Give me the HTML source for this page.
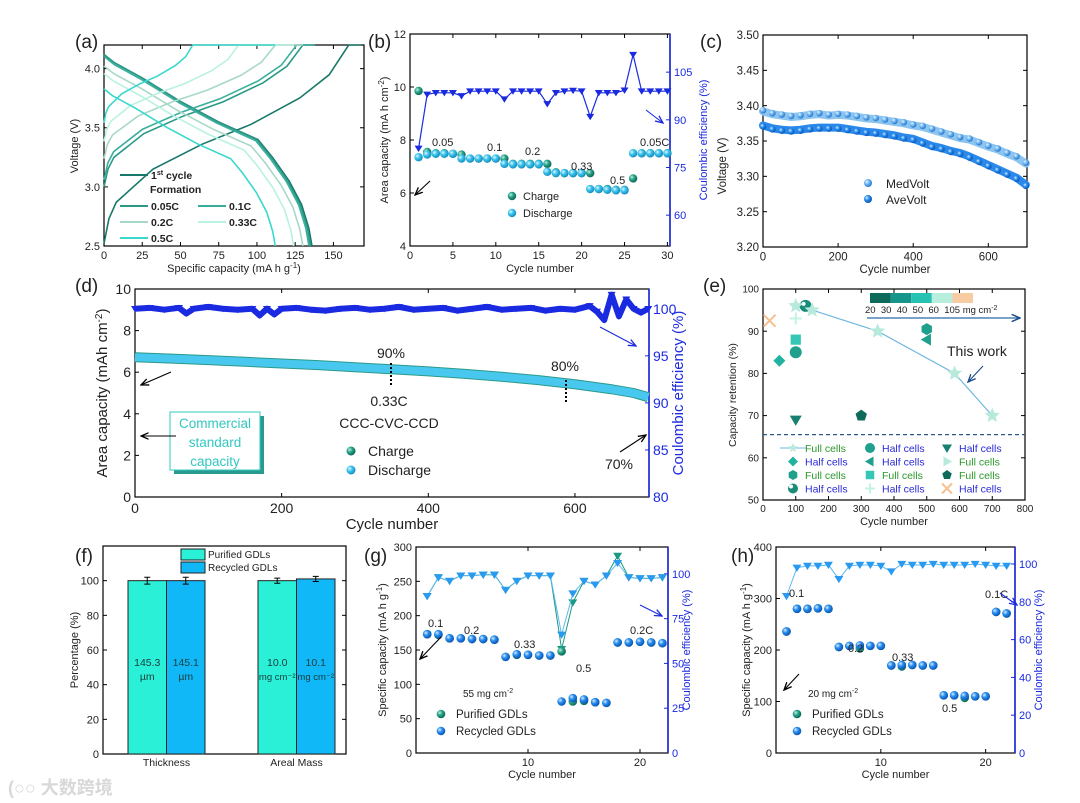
<!DOCTYPE html>
<html><head><meta charset="utf-8">
<style>
html,body{margin:0;padding:0;background:#fff;}
svg{display:block;font-family:"Liberation Sans",Arial,sans-serif;}
</style></head>
<body>
<svg id="fig" width="1080" height="803" viewBox="0 0 1080 803" xmlns="http://www.w3.org/2000/svg">
<defs>
<radialGradient id="gTeal" cx="35%" cy="35%" r="65%"><stop offset="0" stop-color="#bff0e0"/><stop offset="0.45" stop-color="#2aa58a"/><stop offset="1" stop-color="#0d6a58"/></radialGradient>
<radialGradient id="gCyan" cx="35%" cy="35%" r="65%"><stop offset="0" stop-color="#e0f8ff"/><stop offset="0.45" stop-color="#3cc4ee"/><stop offset="1" stop-color="#1690c0"/></radialGradient>
<radialGradient id="gBlue" cx="35%" cy="35%" r="65%"><stop offset="0" stop-color="#d8ecff"/><stop offset="0.45" stop-color="#2a8ef0"/><stop offset="1" stop-color="#0a58b8"/></radialGradient>
<radialGradient id="gLBlue" cx="35%" cy="35%" r="65%"><stop offset="0" stop-color="#e8f4ff"/><stop offset="0.5" stop-color="#6cb4f0"/><stop offset="1" stop-color="#2a78d0"/></radialGradient>
<marker id="arK" markerWidth="8" markerHeight="8" refX="7" refY="4" orient="auto"><path d="M0,1 L7,4 L0,7" fill="none" stroke="#000" stroke-width="1.2"/></marker>
<marker id="arB" markerWidth="8" markerHeight="8" refX="7" refY="4" orient="auto"><path d="M0,1 L7,4 L0,7" fill="none" stroke="#1a2ae0" stroke-width="1.2"/></marker>
<marker id="arD" markerWidth="8" markerHeight="8" refX="7" refY="4" orient="auto"><path d="M0,1 L7,4 L0,7" fill="none" stroke="#1a4a8a" stroke-width="1.2"/></marker>
</defs>
</svg>
<script>
// ---------- DATA ----------
// (a)
const aDisFrac=[0,0.05,0.185,0.37,0.55,0.74,0.81,0.89,0.95,0.985,1];
const aDisV=[4.12,4.05,3.92,3.72,3.55,3.40,3.25,3.05,2.85,2.65,2.5];
const aChgFrac=[0,0.02,0.05,0.2,0.4,0.6,0.8,0.92,1];
const aChgV=[3.0,3.15,3.25,3.45,3.6,3.72,3.88,4.02,4.2];
const aNames=["1st","0.05C","0.1C","0.2C","0.33C","0.5C"];
const aDisCap=[136,135,134,130,124,112];
const aDisK=[1.0,1.0,0.99,0.94,0.9,0.82];
const aCvStart=[160,130,126,112,88,58];
const aChgEnd=[168,138,136,130,124,112];
const aChgK=[1.4,1.0,0.95,0.8,0.68,0.55];
const aColors=["#17796a","#2a9a88","#3aae9c","#a8d8c8","#b8f2e2","#3ad8cc"];
// (b)
const bCycles=[1,2,3,4,5,6,7,8,9,10,11,12,13,14,15,16,17,18,19,20,21,22,23,24,25,26,27,28,29,30];
const bCharge=[9.85,7.55,7.5,7.5,7.48,7.45,7.3,7.3,7.3,7.3,7.3,7.1,7.1,7.1,7.1,7.1,6.78,6.75,6.75,6.75,6.75,6.15,6.15,6.12,6.12,6.55,7.5,7.5,7.5,7.5];
const bDischarge=[7.35,7.45,7.48,7.48,7.48,7.3,7.3,7.3,7.3,7.3,7.1,7.08,7.08,7.08,7.08,6.8,6.75,6.75,6.75,6.75,6.15,6.15,6.12,6.1,6.1,7.5,7.5,7.5,7.5,7.5];
const bCE=[81,98,98.5,98.5,98.5,97.5,99,99,99,99,96.5,99,99,99,99,95,98.5,99,99.2,99,91,98.5,98.5,98.5,99.3,110.5,99,99,99,99];
// (c)
const cCycles=[0,25,50,75,100,125,150,175,200,225,250,275,300,325,350,375,400,425,450,475,500,525,550,575,600,625,650,675,700];
const cMed=[3.392,3.388,3.386,3.384,3.385,3.387,3.388,3.386,3.387,3.386,3.384,3.382,3.381,3.379,3.377,3.375,3.372,3.37,3.366,3.362,3.358,3.354,3.352,3.347,3.342,3.338,3.332,3.327,3.318];
const cAve=[3.372,3.368,3.366,3.365,3.366,3.368,3.369,3.369,3.369,3.367,3.365,3.363,3.362,3.36,3.358,3.355,3.353,3.348,3.343,3.34,3.336,3.333,3.328,3.322,3.316,3.31,3.304,3.298,3.288];
// (d)
const dCycles=[0,50,100,150,200,250,300,350,400,450,500,550,600,650,680,700];
const dCap=[6.72,6.65,6.58,6.5,6.42,6.34,6.24,6.14,6.04,5.92,5.78,5.62,5.42,5.18,5.0,4.8];
const dCECycles=[0,20,40,60,70,80,100,120,140,160,170,180,190,200,220,240,260,280,300,320,340,360,380,400,420,440,460,480,500,520,540,560,580,600,620,630,640,650,660,670,680,690,700];
const dCE=[100,100.1,99.9,100.1,99.5,100,100.2,100,99.9,100,99.3,100,99.4,100,100.1,99.9,99.8,100,100.1,99.9,100,100.2,99.9,100,100.1,99.8,100,100.2,99.9,100,100.1,99.8,100,99.9,100.3,99.7,98.8,101.5,99.2,101,100,99.6,100];
// (e)
const eStarX=[100,150,350,585,700];
const eStarY=[96,95,90,80,70];
const eOtherX=[50,100,500,100,130,500,100,300,100,20];
const eOtherY=[83,85,90.5,88,96,88,69,70,93,92.5];
const eOtherShape=["diamond","circle","hexagon","square","ring","tleft","tdown","pentagon","plus","cross"];
const eOtherColor=["#22b3a0","#1ea08c","#1ea08c","#36c6b6","#1a8c7a","#1ea08c","#178070","#0e6a5a","#c4f2e4","#f6c090"];
// (f)
const fGroups=["Thickness","Areal Mass"];
const fPurified=[100,100];
const fRecycled=[100,101];
const fErrP=[2,1.5];
const fErrR=[2,1.5];
const fInside=[["145.3","µm","145.1","µm"],["10.0","mg cm⁻²","10.1","mg cm⁻²"]];
// (g)
const gCycles=[1,2,3,4,5,6,7,8,9,10,11,12,13,14,15,16,17,18,19,20,21,22];
const gRecCap=[173,173,167,167,166,166,165,140,144,143,142,142,75,80,78,74,73,161,161,162,161,160];
const gPurCap=[173,172,167,167,166,166,165,140,143,143,142,142,148,75,76,74,73,161,161,162,161,160];
const gRecCE=[87.5,98,96,99,99,99.5,99.5,91,96,99,99,99,66,89,96,94,99,106,98,97.5,97.5,98];
const gPurCE=[87.5,98,96,99,99,99.5,99.5,91,96,99,99,99,58,84,96,94,99,110,98,97.5,97.5,98];
// (h)
const hCycles=[1,2,3,4,5,6,7,8,9,10,11,12,13,14,15,16,17,18,19,20,21,22];
const hRecCap=[236,280,280,281,280,206,208,209,208,208,170,171,171,170,170,112,112,111,110,110,274,271];
const hPurCap=[236,280,280,281,280,206,208,203,208,208,170,168,171,170,170,112,112,107,110,110,274,271];
const hRecCE=[83,98,99,99,99.5,92,99,99.5,99.5,99,96,100,99.5,99.5,100,99.5,99.5,99.5,100,99.5,99,99];

// ---------- HELPERS ----------
const NS='http://www.w3.org/2000/svg';
const svg=document.getElementById('fig');
function mk(tag,attrs,parent){const e=document.createElementNS(NS,tag);for(const k in attrs)e.setAttribute(k,attrs[k]);(parent||svg).appendChild(e);return e;}
function lin(d0,d1,r0,r1){return v=>r0+(v-d0)/(d1-d0)*(r1-r0);}
function T(x,y,s,o,nm){o=o||{};const e=mk('text',{x:x,y:y,'font-size':o.fs||12,fill:o.fill||'#222','text-anchor':o.anchor||'start','font-weight':o.fw||'normal'});
 if(o.rot){e.setAttribute('transform','rotate(-90 '+x+' '+y+')');}
 e.innerHTML=s;
 
 
 return e;}
function grp(nm){const g=mk('g',{});
 
 
 return g;}
function axes(p){
 const g=grp(p.name+'-axes');
 const sx=lin(p.xd[0],p.xd[1],p.L,p.R), sy=lin(p.yd[0],p.yd[1],p.B,p.T);
 const sy2=p.yd2?lin(p.yd2[0],p.yd2[1],p.B,p.T):null;
 const fs=p.fs||11;
 (p.xt||[]).forEach(v=>{const x=sx(v);mk('line',{x1:x,x2:x,y1:p.B,y2:p.B-4,stroke:'#000'},g);mk('line',{x1:x,x2:x,y1:p.T,y2:p.T+4,stroke:'#000'},g);
  T(x,p.B+fs+2,(p.xfmt?p.xfmt(v):v),{fs:fs,anchor:'middle'},'x-tick-label');});
 (p.yt||[]).forEach(v=>{const y=sy(v);mk('line',{x1:p.L,x2:p.L+4,y1:y,y2:y,stroke:'#000'},g);if(!p.yd2)mk('line',{x1:p.R,x2:p.R-4,y1:y,y2:y,stroke:'#000'},g);
  T(p.L-4,y+fs*0.36,(p.yfmt?p.yfmt(v):v),{fs:fs,anchor:'end'},'y-tick-label');});
 (p.y2t||[]).forEach(v=>{const y=sy2(v);mk('line',{x1:p.R,x2:p.R-4,y1:y,y2:y,stroke:'#1a2ae0'},g);
  T(p.R+4,y+fs*0.36,v,{fs:fs,fill:'#1a2ae0'},'y2-tick-label');});
 mk('rect',{x:p.L,y:p.T,width:p.R-p.L,height:p.B-p.T,fill:'none',stroke:'#000','stroke-width':1.2},g);
 if(p.yd2)mk('line',{x1:p.R,x2:p.R,y1:p.T,y2:p.B,stroke:'#1a2ae0','stroke-width':1.6},g);
 return {sx,sy,sy2,g};}
function tri(cx,cy,r,fill,par,nm){const e=mk('path',{d:'M'+(cx-r)+','+(cy-r*0.7)+' L'+(cx+r)+','+(cy-r*0.7)+' L'+cx+','+(cy+r*0.9)+' Z',fill:fill},par);
 
 
 return e;}
function ball(cx,cy,r,grad,par,nm){const e=mk('circle',{cx:cx,cy:cy,r:r,fill:'url(#'+grad+')'},par);
 
 
 return e;}
function arrow(x1,y1,x2,y2,m,col){const e=mk('line',{x1,y1,x2,y2,stroke:col,'stroke-width':1.1,'marker-end':'url(#'+m+')'});
 
 }

// ---------- PANEL LETTERS ----------
[["(a)",75,48],["(b)",368,48],["(c)",700,48],["(d)",75,292],["(e)",703,292],["(f)",75,562],["(g)",364,562],["(h)",731,562]].forEach(l=>T(l[1],l[2],l[0],{fs:19},'panel-letter'));

// ---------- (a) ----------
(function(){
 const A=axes({name:'a',L:104,R:364,T:45,B:246,xd:[0,170],yd:[2.5,4.2],xt:[0,25,50,75,100,125,150],yt:[2.5,3.0,3.5,4.0],yfmt:v=>v.toFixed(1),fs:11});
 const g=grp('a-curves');
 aNames.forEach((n,i)=>{
  let pts=aDisFrac.map((f,j)=>A.sx(f*aDisCap[i])+','+A.sy(2.5+(aDisV[j]-2.5)*aDisK[i]));
  const d=mk('polyline',{points:pts.join(' '),fill:'none',stroke:aColors[i],'stroke-width':1.6},g);
  
  
  let cp=aChgFrac.map((f,j)=>A.sx(f*aCvStart[i])+','+A.sy(4.2-(4.2-aChgV[j])*aChgK[i]));
  cp.push(A.sx(aChgEnd[i])+','+A.sy(4.2));
  const c=mk('polyline',{points:cp.join(' '),fill:'none',stroke:aColors[i],'stroke-width':1.6},g);
  
  
 });
 T(78,146,'Voltage (V)',{fs:11,anchor:'middle',rot:1},'y-axis-title');
 T(234,272,'Specific capacity (mA h g<tspan font-size="8" dy="-4">-1</tspan><tspan dy="4">)</tspan>',{fs:11,anchor:'middle'},'x-axis-title');
 const lg=grp('a-legend');
 [[0,120,175],[1,120,206],[2,198,206],[3,120,222],[4,198,222],[5,120,238]].forEach(r=>{
  const l=mk('line',{x1:r[1],x2:r[1]+28,y1:r[2],y2:r[2],stroke:aColors[r[0]],'stroke-width':2},lg);
  
  });
 T(151,179,'1<tspan font-size="7" dy="-4">st</tspan><tspan dy="4"> cycle</tspan>',{fs:10.5,fw:'bold'},'legend-entry');
 T(150,193,'Formation',{fs:10.5,fw:'bold'},'legend-entry');
 T(151,210,'0.05C',{fs:10.5,fw:'bold'},'legend-entry');
 T(229,210,'0.1C',{fs:10.5,fw:'bold'},'legend-entry');
 T(151,226,'0.2C',{fs:10.5,fw:'bold'},'legend-entry');
 T(229,226,'0.33C',{fs:10.5,fw:'bold'},'legend-entry');
 T(151,242,'0.5C',{fs:10.5,fw:'bold'},'legend-entry');
})();

// ---------- (b) ----------
(function(){
 const A=axes({name:'b',L:410,R:670,T:34,B:246,xd:[0,30.3],yd:[4,12],yd2:[50.3,117],xt:[0,5,10,15,20,25,30],yt:[4,6,8,10,12],y2t:[60,75,90,105],fs:11});
 const g=grp('b-series');
 const ce=mk('polyline',{points:bCycles.map((c,i)=>A.sx(c)+','+A.sy2(bCE[i])).join(' '),fill:'none',stroke:'#1a2ae0','stroke-width':1.2},g);
 
 
 bCycles.forEach((c,i)=>tri(A.sx(c),A.sy2(bCE[i]),4,'#1a2ae0',g,'ce-point'));
 bCycles.forEach((c,i)=>ball(A.sx(c),A.sy(bCharge[i]),4.2,'gTeal',g,'charge-point'));
 bCycles.forEach((c,i)=>ball(A.sx(c),A.sy(bDischarge[i]),4.2,'gCyan',g,'discharge-point'));
 T(388,140,'Area capacity (mA h cm<tspan font-size="8" dy="-4">-2</tspan><tspan dy="4">)</tspan>',{fs:11,anchor:'middle',rot:1},'y-axis-title');
 T(707,140,'Coulombic efficiency (%)',{fs:11,anchor:'middle',rot:1,fill:'#1a2ae0'},'y2-axis-title');
 T(540,272,'Cycle number',{fs:11,anchor:'middle'},'x-axis-title');
 [["0.05",432,146],["0.1",487,151],["0.2",525,155],["0.33",571,170],["0.5",610,184],["0.05C",640,146]].forEach(l=>T(l[1],l[2],l[0],{fs:11},'rate-label'));
 arrow(430,181,415,195,'arK','#000');
 arrow(646,110,663,123,'arB','#1a2ae0');
 ball(512,196,4.2,'gTeal',svg,'legend-marker-charge');
 T(523,200,'Charge',{fs:11},'legend-entry');
 ball(512,213,4.2,'gCyan',svg,'legend-marker-discharge');
 T(523,217,'Discharge',{fs:11},'legend-entry');
})();

// ---------- (c) ----------
(function(){
 const A=axes({name:'c',L:763,R:1027,T:35,B:247,xd:[0,703],yd:[3.2,3.5],xt:[0,200,400,600],yt:[3.2,3.25,3.3,3.35,3.4,3.45,3.5],yfmt:v=>v.toFixed(2),fs:11.5});
 const g=grp('c-series');
 [[cMed,'#8cc4f0','medvolt'],[cAve,'#2a88ea','avevolt']].forEach(s=>{
  const pl=mk('polyline',{points:cCycles.map((c,i)=>A.sx(c)+','+A.sy(s[0][i])).join(' '),fill:'none',stroke:s[1],'stroke-width':8,'stroke-linejoin':'round','stroke-linecap':'round'},g);
  
  
 });
 cCycles.forEach((c,i)=>ball(A.sx(c),A.sy(cMed[i])-1,3.3,'gLBlue',g,'medvolt-point'));
 cCycles.forEach((c,i)=>ball(A.sx(c),A.sy(cAve[i])+1,3.3,'gBlue',g,'avevolt-point'));
 T(726,166,'Voltage (V)',{fs:11.5,anchor:'middle',rot:1},'y-axis-title');
 T(895,273,'Cycle number',{fs:11.5,anchor:'middle'},'x-axis-title');
 ball(868,183,4,'gLBlue',svg,'legend-marker-medvolt');
 T(886,188,'MedVolt',{fs:12},'legend-entry');
 ball(868,199,4,'gBlue',svg,'legend-marker-avevolt');
 T(886,204,'AveVolt',{fs:12},'legend-entry');
})();

// ---------- (d) ----------
(function(){
 const A=axes({name:'d',L:135,R:649,T:289,B:497,xd:[0,701],yd:[0,10],yd2:[80,102.1],xt:[0,200,400,600],yt:[0,2,4,6,8,10],y2t:[80,85,90,95,100],fs:14});
 const g=grp('d-series');
 const ce=mk('polyline',{points:dCECycles.map((c,i)=>A.sx(c)+','+A.sy2(dCE[i])).join(' '),fill:'none',stroke:'#1a2ae0','stroke-width':6,'stroke-linejoin':'round'},g);
 
 
 dCECycles.forEach((c,i)=>tri(A.sx(c),A.sy2(dCE[i]),4,'#1a2ae0',g,'ce-point'));
 const ch=mk('polyline',{points:dCycles.map((c,i)=>A.sx(c)+','+A.sy(dCap[i])).join(' '),fill:'none',stroke:'#2a9a88','stroke-width':10,'stroke-linejoin':'round'},g);
 
 
 const di=mk('polyline',{points:dCycles.map((c,i)=>A.sx(c)+','+A.sy(dCap[i])).join(' '),fill:'none',stroke:'#48c8ee','stroke-width':8,'stroke-linejoin':'round'},g);
 
 
 T(107,393,'Area capacity (mAh cm<tspan font-size="10" dy="-5">-2</tspan><tspan dy="5">)</tspan>',{fs:15,anchor:'middle',rot:1},'y-axis-title');
 T(683,393,'Coulombic efficiency (%)',{fs:15,anchor:'middle',rot:1,fill:'#1a2ae0'},'y2-axis-title');
 T(392,529,'Cycle number',{fs:15,anchor:'middle'},'x-axis-title');
 T(391,358,'90%',{fs:14,anchor:'middle'},'retention-90');
 const l1=mk('line',{x1:391,x2:391,y1:363,y2:385,stroke:'#000','stroke-width':2,'stroke-dasharray':'2,2'});
 
 
 T(565,371,'80%',{fs:14,anchor:'middle'},'retention-80');
 const l2=mk('line',{x1:566,x2:566,y1:380,y2:402,stroke:'#000','stroke-width':2,'stroke-dasharray':'2,2'});
 
 
 T(619,469,'70%',{fs:14,anchor:'middle'},'retention-70');
 arrow(620,452,646,435,'arK','#000');
 T(389,406,'0.33C',{fs:14,anchor:'middle'},'rate-label');
 T(389,428,'CCC-CVC-CCD',{fs:14,anchor:'middle'},'protocol-label');
 arrow(171,372,141,385,'arK','#000');
 arrow(600,327,636,346,'arB','#1a2ae0');
 const bx=grp('commercial-standard-box');
 mk('rect',{x:174,y:416,width:90,height:58,fill:'#2a9a90'},bx);
 mk('rect',{x:170,y:412,width:90,height:58,fill:'#fff',stroke:'#30c8bc','stroke-width':1},bx);
 T(215,428,'Commercial',{fs:13.5,anchor:'middle',fill:'#30c8c0'},'box-text');
 T(215,447,'standard',{fs:13.5,anchor:'middle',fill:'#30c8c0'},'box-text');
 T(215,466,'capacity',{fs:13.5,anchor:'middle',fill:'#30c8c0'},'box-text');
 arrow(176,436,141,436,'arK','#000');
 ball(351,451,4.5,'gTeal',svg,'legend-marker-charge');
 T(368,456,'Charge',{fs:14},'legend-entry');
 ball(351,470,4.5,'gCyan',svg,'legend-marker-discharge');
 T(368,475,'Discharge',{fs:14},'legend-entry');
})();

// ---------- (e) ----------
function star(cx,cy,r,fill,par){let p=[];for(let k=0;k<10;k++){const a=-Math.PI/2+k*Math.PI/5;const rr=k%2?r*0.45:r;p.push((cx+rr*Math.cos(a))+','+(cy+rr*Math.sin(a)));}return mk('polygon',{points:p.join(' '),fill:fill},par);}
function shape(kind,cx,cy,r,fill,par){
 let e;
 if(kind==='circle')e=mk('circle',{cx,cy,r,fill},par);
 else if(kind==='ring'){e=mk('g',{},par);mk('circle',{cx,cy,r,fill},e);mk('circle',{cx:cx-2,cy:cy-2,r:2,fill:'#fff'},e);}
 else if(kind==='square')e=mk('rect',{x:cx-r*0.85,y:cy-r*0.85,width:r*1.7,height:r*1.7,fill},par);
 else if(kind==='diamond')e=mk('polygon',{points:[cx,cy-r,cx+r,cy,cx,cy+r,cx-r,cy].join(','),fill},par);
 else if(kind==='tdown')e=mk('polygon',{points:[cx-r,cy-r*0.7,cx+r,cy-r*0.7,cx,cy+r].join(','),fill},par);
 else if(kind==='tleft')e=mk('polygon',{points:[cx+r*0.7,cy-r,cx+r*0.7,cy+r,cx-r,cy].join(','),fill},par);
 else if(kind==='tright')e=mk('polygon',{points:[cx-r*0.7,cy-r,cx-r*0.7,cy+r,cx+r,cy].join(','),fill},par);
 else if(kind==='hexagon'||kind==='pentagon'){const n=kind==='hexagon'?6:5;let p=[];for(let k=0;k<n;k++){const a=-Math.PI/2+k*2*Math.PI/n;p.push((cx+r*Math.cos(a))+','+(cy+r*Math.sin(a)));}e=mk('polygon',{points:p.join(' '),fill},par);}
 else if(kind==='plus'){e=mk('path',{d:'M'+(cx-r)+','+cy+'H'+(cx+r)+'M'+cx+','+(cy-r)+'V'+(cy+r),stroke:fill,'stroke-width':2},par);}
 else if(kind==='cross'){e=mk('path',{d:'M'+(cx-r)+','+(cy-r)+'L'+(cx+r)+','+(cy+r)+'M'+(cx+r)+','+(cy-r)+'L'+(cx-r)+','+(cy+r),stroke:fill,'stroke-width':2},par);}
 else if(kind==='star')e=star(cx,cy,r,fill,par);
 return e;}
(function(){
 const A=axes({name:'e',L:763,R:1025,T:289,B:500,xd:[0,800],yd:[50,100],xt:[0,100,200,300,400,500,600,700,800],yt:[50,60,70,80,90,100],fs:10});
 const g=grp('e-series');
 const dl=mk('line',{x1:763,x2:1025,y1:A.sy(65.5),y2:A.sy(65.5),stroke:'#2a5a8a','stroke-width':1.2,'stroke-dasharray':'4,3'},g);
 
 
 const pl=mk('polyline',{points:eStarX.map((x,i)=>A.sx(x)+','+A.sy(eStarY[i])).join(' '),fill:'none',stroke:'#70b8e0','stroke-width':1.2},g);
 
 
 eOtherX.forEach((x,i)=>{const e=shape(eOtherShape[i],A.sx(x),A.sy(eOtherY[i]),6,eOtherColor[i],g);
  
  });
 eStarX.forEach((x,i)=>{const e=star(A.sx(x),A.sy(eStarY[i]),8,'#b8eadc',g);
  
  });
 T(736,395,'Capacity retention (%)',{fs:10.5,anchor:'middle',rot:1},'y-axis-title');
 T(894,525,'Cycle number',{fs:11,anchor:'middle'},'x-axis-title');
 T(947,356,'This work',{fs:14},'this-work-label');
 arrow(983,366,968,382,'arD','#1a4a8a');
 const cb=grp('colorbar');
 ["#0e6a5a","#16958a","#26c2b2","#b8eedd","#f8cca2"].forEach((c,i)=>{const r=mk('rect',{x:870+i*20.6,y:293,width:20.6,height:10,fill:c},cb);
  
  });
 T(865,313,'20 &#160;30 &#160;40 &#160;50 &#160;60 &#160;105 mg cm<tspan font-size="7" dy="-3">-2</tspan>',{fs:9.5},'colorbar-labels');
 const al=mk('line',{x1:867,x2:1020,y1:318,y2:318,stroke:'#2a6aa8','stroke-width':1.2,'marker-end':'url(#arD)'});
 
 
 const lg=grp('e-legend');
 const rows=[
  [["star","#b8eadc","Full cells","#2a9a2a"],["circle","#1ea08c","Half cells","#2a2ad8"],["tdown","#178070","Half cells","#2a2ad8"]],
  [["diamond","#22b3a0","Half cells","#2a2ad8"],["tleft","#1ea08c","Half cells","#2a2ad8"],["tright","#b8eadc","Full cells","#2a9a2a"]],
  [["hexagon","#1ea08c","Full cells","#2a9a2a"],["square","#36c6b6","Full cells","#2a9a2a"],["pentagon","#0e6a5a","Full cells","#2a9a2a"]],
  [["ring","#1a8c7a","Half cells","#2a2ad8"],["plus","#c4f2e4","Half cells","#2a2ad8"],["cross","#f6c090","Half cells","#2a2ad8"]]];
 rows.forEach((row,ri)=>row.forEach((it,ci)=>{const cx=793+ci*77,cy=448+ri*13.5;
  if(ri===0&&ci===0){const l=mk('line',{x1:780,x2:806,y1:cy,y2:cy,stroke:'#70b8e0'},lg);}
  const m=shape(it[0],cx,cy,5,it[1],lg);
  
  T(cx+12,cy+4,it[2],{fs:10.5,fill:it[3]},'legend-entry');}));
})();

// ---------- (f) ----------
(function(){
 const A=axes({name:'f',L:103,R:346,T:546,B:754,xd:[0,1],yd:[0,120],xt:[],yt:[0,20,40,60,80,100],fs:11});
 const g=grp('f-bars');
 const bw=38.5, gx=[128,258];
 fGroups.forEach((n,i)=>{
  [[fPurified,fErrP,'#2af0d8',0],[fRecycled,fErrR,'#10b8f8',1]].forEach(s=>{
   const x=gx[i]+s[3]*bw, y=A.sy(s[0][i]);
   const r=mk('rect',{x:x,y:y,width:bw,height:754-y,fill:s[2],stroke:'#222','stroke-width':1},g);
   
   
   const cx=x+bw/2, e1=A.sy(s[0][i]+s[1][i]), e2=A.sy(s[0][i]-s[1][i]);
   const eb=mk('path',{d:'M'+cx+','+e1+'V'+e2+'M'+(cx-3)+','+e1+'H'+(cx+3)+'M'+(cx-3)+','+e2+'H'+(cx+3),stroke:'#000','stroke-width':1,fill:'none'},g);
   
   
   T(cx,666,fInside[i][s[3]*2],{fs:10.5,anchor:'middle',fill:'#1a4040'},'bar-value');
   T(cx,680,fInside[i][s[3]*2+1],{fs:i?9.5:10.5,anchor:'middle',fill:'#1a4040'},'bar-unit');
  });
  T(gx[i]+bw,766,n,{fs:10.5,anchor:'middle'},'x-category-label');
 });
 T(78,650,'Percentage (%)',{fs:11,anchor:'middle',rot:1},'y-axis-title');
 const l1=mk('rect',{x:181,y:549,width:24,height:11,fill:'#2af0d8',stroke:'#222'});
 
 const l2=mk('rect',{x:181,y:562,width:24,height:11,fill:'#10b8f8',stroke:'#222'});
 
 T(208,558,'Purified GDLs',{fs:10},'legend-entry');
 T(208,571,'Recycled GDLs',{fs:10},'legend-entry');
})();

// ---------- (g) & (h) ----------
function ghPanel(nm,L,R,xmax,yd,yt,yd2,y2t,cyc,pc,rc,pce,rce,labels,arrows,loadLbl,loadX,lgX,yTitleX,y2TitleX){
 const A=axes({name:nm,L:L,R:R,T:547,B:753,xd:[0,xmax],yd:yd,yd2:yd2,xt:[10,20],yt:yt,y2t:y2t,fs:11});
 const g=grp(nm+'-series');
 if(pce){const p=mk('polyline',{points:cyc.map((c,i)=>A.sx(c)+','+A.sy2(pce[i])).join(' '),fill:'none',stroke:'#1a9a80','stroke-width':1},g);
  
  cyc.forEach((c,i)=>tri(A.sx(c),A.sy2(pce[i]),4.5,'#1a9a80',g,'purified-ce-point'));}
 const r=mk('polyline',{points:cyc.map((c,i)=>A.sx(c)+','+A.sy2(rce[i])).join(' '),fill:'none',stroke:'#5ab8f0','stroke-width':1},g);
 
 cyc.forEach((c,i)=>tri(A.sx(c),A.sy2(rce[i]),4.5,'#2a9af0',g,'recycled-ce-point'));
 cyc.forEach((c,i)=>ball(A.sx(c),A.sy(pc[i]),4.3,'gTeal',g,'purified-capacity-point'));
 cyc.forEach((c,i)=>ball(A.sx(c),A.sy(rc[i]),4.3,'gBlue',g,'recycled-capacity-point'));
 T(yTitleX,650,'Specific capacity (mA h g<tspan font-size="8" dy="-4">-1</tspan><tspan dy="4">)</tspan>',{fs:11,anchor:'middle',rot:1},'y-axis-title');
 T(y2TitleX,650,'Coulombic efficiency (%)',{fs:11,anchor:'middle',rot:1,fill:'#1a2ae0'},'y2-axis-title');
 T((L+R)/2,778,'Cycle number',{fs:11,anchor:'middle'},'x-axis-title');
 labels.forEach(l=>T(l[1],l[2],l[0],{fs:11},'rate-label'));
 arrow(arrows[0],arrows[1],arrows[2],arrows[3],'arK','#000');
 arrow(arrows[4],arrows[5],arrows[6],arrows[7],'arB','#1a2ae0');
 T(loadX,697,loadLbl+' mg cm<tspan font-size="7" dy="-4">-2</tspan>',{fs:10},'loading-label');
 ball(lgX,714,4.3,'gTeal',svg,'legend-marker-purified');
 T(lgX+15,718,'Purified GDLs',{fs:11.5},'legend-entry');
 ball(lgX,731,4.3,'gBlue',svg,'legend-marker-recycled');
 T(lgX+15,735,'Recycled GDLs',{fs:11.5},'legend-entry');
}
ghPanel('g',416,668,22.5,[0,300],[0,50,100,150,200,250,300],[0,115],[0,25,50,75,100],gCycles,gPurCap,gRecCap,gPurCE,gRecCE,
 [["0.1",428,627],["0.2",464,634],["0.33",514,648],["0.5",576,672],["0.2C",630,634]],[441,637,420,659,640,605,662,616],'55',463,441,386,690);
ghPanel('h',776,1015,22.8,[0,400],[0,100,200,300,400],[0,109],[0,20,40,60,80,100],hCycles,hPurCap,hRecCap,null,hRecCE,
 [["0.1",789,597],["0.2",848,652],["0.33",892,661],["0.5",942,712],["0.1C",985,598]],[799,674,784,690,1000,593,1017,605],'20',808,797,750,1042);

// watermark
T(8,794,'(○○ 大数跨境',{fs:18,fill:'#d8d8d8',fw:'bold'},'watermark').setAttribute('font-family','"Liberation Sans","Noto Sans CJK SC",sans-serif');
</script>
</body></html>
